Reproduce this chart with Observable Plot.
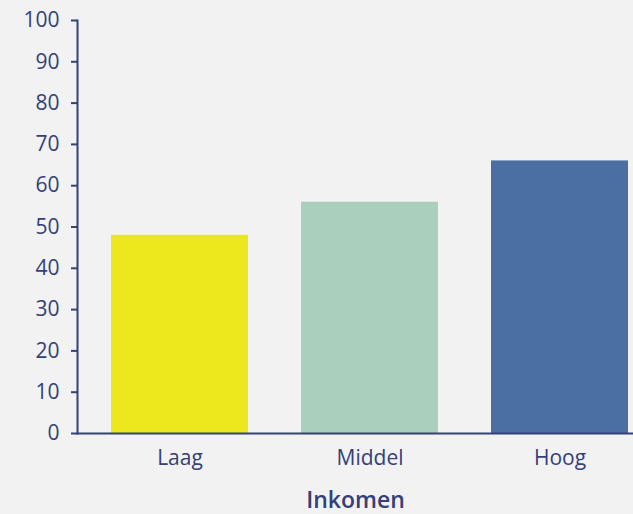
<!DOCTYPE html>
<html>
<head>
<meta charset="utf-8">
<script src="https://cdn.jsdelivr.net/npm/d3@7"></script>
<script src="https://cdn.jsdelivr.net/npm/@observablehq/plot@0.6"></script>
<style>
  html, body { margin: 0; padding: 0; background: #f2f2f2; }
</style>
</head>
<body>
<div id="chart"></div>
<script>
const categories = ["Laag", "Middel", "Hoog"];
const values = [48, 56, 66];
const colors = ["#ede81e", "#aacfbd", "#4b6fa3"];
const yTicks = [0, 10, 20, 30, 40, 50, 60, 70, 80, 90, 100];
const xLabel = "Inkomen";

const data = categories.map((c, i) => ({cat: c, value: values[i], color: colors[i]}));
const ink = "#33407a";

const chart = Plot.plot({
  width: 633,
  height: 514,
  marginLeft: 77,
  marginRight: 0,
  marginTop: 20,
  marginBottom: 81,
  style: {background: "#f2f2f2", fontFamily: "'Open Sans', sans-serif", fontSize: "21px", color: ink},
  x: {domain: categories, paddingInner: 0.28, paddingOuter: 0.0955, align: 0.877, label: null},
  y: {domain: [0, 100], label: null},
  marks: [
    Plot.barY(data, {x: "cat", y: "value", fill: "color"}),
    Plot.axisY({ticks: yTicks, tickSize: 6, tickPadding: 12, stroke: ink, strokeWidth: 2, label: null, fill: ink, fontSize: 21}),
    Plot.axisX({tickSize: 0, tickPadding: 17, label: null, fill: ink, fontSize: 21}),
    Plot.frame({anchor: "left", stroke: ink, strokeWidth: 2}),
    Plot.frame({anchor: "bottom", stroke: ink, strokeWidth: 2}),
    Plot.text([xLabel], {text: d => d, frameAnchor: "bottom", dy: 67, fontWeight: 600, fontSize: 23, fill: ink, lineAnchor: "middle"})
  ]
});
document.getElementById("chart").appendChild(chart);
</script>
</body>
</html>
